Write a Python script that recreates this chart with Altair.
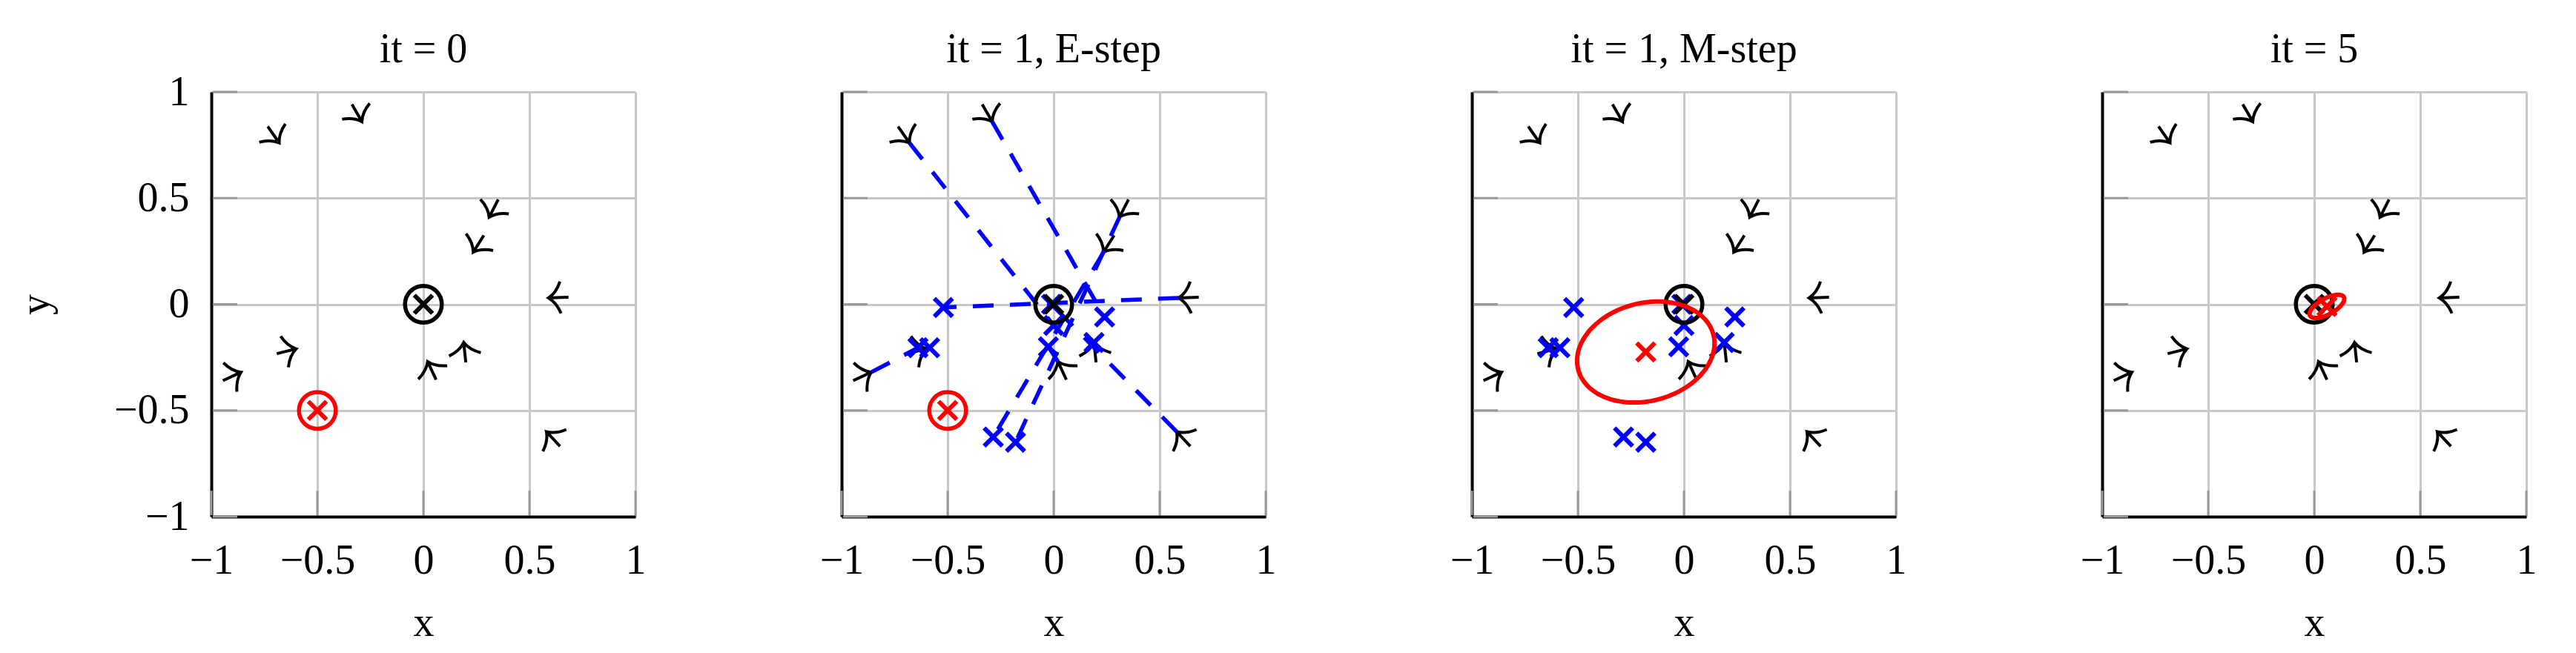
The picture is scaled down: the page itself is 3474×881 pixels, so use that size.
import altair as alt
import numpy as np
import pandas as pd

FONT = "Liberation Serif"

titles = ["it = 0", "it = 1, E-step", "it = 1, M-step", "it = 5"]
ticks = [-1, -0.5, 0, 0.5, 1]

# bearing measurements: arrow tip positions and pointing directions (deg, ccw)
meas_x = [-0.68, -0.29, 0.31, 0.235, 0.59, 0.19, 0.02, -0.60, -0.86, 0.58]
meas_y = [0.76, 0.86, 0.41, 0.245, 0.03, -0.18, -0.27, -0.21, -0.32, -0.60]
meas_dir = [-55, -60, -117, -122, 182, 96, 115, 14, 25, 133]

# E-step points on each bearing line
proj_x = [0.0, 0.24, -0.18, -0.285, -0.52, 0.19, -0.025, -0.585, -0.64, -0.01]
proj_y = [-0.10, -0.06, -0.65, -0.625, -0.015, -0.18, -0.20, -0.205, -0.205, 0.0]

# true source
true_x = [0.0]
true_y = [0.0]

# estimate per panel
est_x = [-0.5, -0.5, -0.18, 0.06]
est_y = [-0.5, -0.5, -0.225, -0.01]
# covariance (sxx, sxy, syy) of estimate, panels 3 and 4
est_cov = {2: (0.105, 0.0133, 0.0566), 3: (0.0067, 0.0029, 0.0030)}

W, H = 572, 573
sx = alt.Scale(domain=[-1, 1], nice=False, zero=False)
sy = alt.Scale(domain=[-1, 1], nice=False, zero=False)

ARROW = "M -1 0 L 0 0 M -0.6 -0.8 Q -0.4 -0.25 0 0 Q -0.4 0.25 -0.6 0.8"
XSHAPE = "M -1 -1 L 1 1 M -1 1 L 1 -1"


def ellipse_df(cx, cy, cov, n=120):
    sxx, sxy, syy = cov
    L = np.linalg.cholesky(np.array([[sxx, sxy], [sxy, syy]]))
    t = np.linspace(0, 2 * np.pi, n)
    pts = L @ np.vstack([np.cos(t), np.sin(t)])
    return pd.DataFrame({"x": cx + pts[0], "y": cy + pts[1], "o": np.arange(n)})


def common_axis(**kw):
    return alt.Axis(values=ticks, format="~g", grid=True, gridColor="#c8c8c8",
                    gridWidth=3, domainColor="black", domainWidth=4, ticks=False,
                    tickSize=0, labelFont=FONT, labelFontSize=56, labelColor="black",
                    labelFlush=False, labelOverlap=False, titleFont=FONT,
                    titleFontSize=56, titleFontWeight="normal", titleColor="black", **kw)


def panel(i):
    xaxis = common_axis(labelPadding=32, title="x", titlePadding=29)
    if i == 0:
        yaxis = common_axis(labelPadding=30, title="y", titlePadding=76)
    else:
        yaxis = common_axis(labels=False, title=None)

    def X(f="x"):
        return alt.X(f"{f}:Q", scale=sx, axis=xaxis)

    def Y(f="y"):
        return alt.Y(f"{f}:Q", scale=sy, axis=yaxis)

    tick_df = pd.DataFrame({"t": ticks})
    layers = [
        alt.Chart(tick_df).mark_rule(color="#999999", strokeWidth=3).encode(
            y=Y("t"), x=alt.value(2), x2=alt.value(35)),
        alt.Chart(tick_df).mark_rule(color="#999999", strokeWidth=3).encode(
            x=X("t"), y=alt.value(H - 2), y2=alt.value(H - 35)),
    ]

    arrow_df = pd.DataFrame({"x": meas_x, "y": meas_y,
                             "rot": [(-d) % 360 for d in meas_dir]})
    layers.append(alt.Chart(arrow_df).mark_point(
        shape=ARROW, filled=False, color="black", strokeWidth=4, size=2900, opacity=1
    ).encode(x=X(), y=Y(), angle=alt.Angle("rot:Q", scale=None)))

    proj_df = pd.DataFrame({"x": meas_x, "y": meas_y, "px": proj_x, "py": proj_y})
    if i == 1:
        layers.append(alt.Chart(proj_df).mark_rule(
            color="#0000ff", strokeWidth=5.5, strokeDash=[28, 22]
        ).encode(x=X(), y=Y(), x2="px:Q", y2="py:Q"))
    if i in (1, 2):
        layers.append(alt.Chart(proj_df).mark_point(
            shape=XSHAPE, filled=False, color="#0000ff", strokeWidth=6, size=600, opacity=1
        ).encode(x=X("px"), y=Y("py")))

    true_df = pd.DataFrame({"x": true_x, "y": true_y})
    layers.append(alt.Chart(true_df).mark_point(
        shape="circle", filled=False, color="black", strokeWidth=5.5, size=2463, opacity=1
    ).encode(x=X(), y=Y()))
    layers.append(alt.Chart(true_df).mark_point(
        shape=XSHAPE, filled=False, color="black", strokeWidth=6, size=600, opacity=1
    ).encode(x=X(), y=Y()))

    est_df = pd.DataFrame({"x": [est_x[i]], "y": [est_y[i]]})
    if i in (0, 1):
        layers.append(alt.Chart(est_df).mark_point(
            shape="circle", filled=False, color="#ff0000", strokeWidth=5.5, size=2463, opacity=1
        ).encode(x=X(), y=Y()))
    layers.append(alt.Chart(est_df).mark_point(
        shape=XSHAPE, filled=False, color="#ff0000", strokeWidth=6, size=600, opacity=1
    ).encode(x=X(), y=Y()))
    if i in est_cov:
        layers.append(alt.Chart(ellipse_df(est_x[i], est_y[i], est_cov[i])).mark_line(
            color="#ff0000", strokeWidth=6
        ).encode(x=X(), y=Y(), order="o:Q"))

    # panel 1 title already clears the y-axis label "1"; others need the same gap
    title_offset = 0 if i == 0 else 27
    return alt.layer(*layers).properties(
        width=W, height=H,
        title=alt.Title(titles[i], font=FONT, fontSize=56, fontWeight="normal",
                        color="black", offset=title_offset),
    )


chart = alt.hconcat(*[panel(i) for i in range(4)], spacing=278, bounds="flush").properties(
    padding={"left": 12, "top": 30, "right": 5, "bottom": 5}
).configure_view(stroke=None)

chart.save("out.html", embed_options={"renderer": "svg", "actions": False})
